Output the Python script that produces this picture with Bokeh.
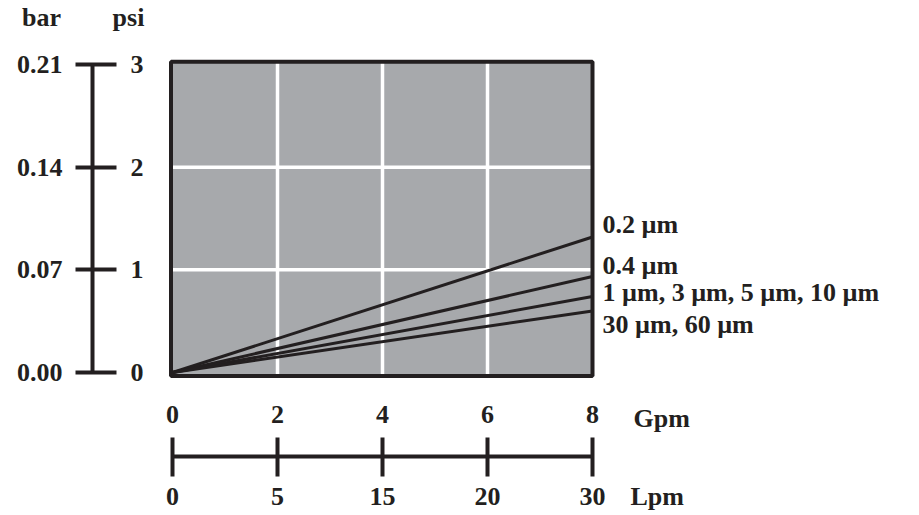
from bokeh.plotting import figure
from bokeh.models import (Range1d, LinearAxis, FixedTicker, ColumnDataSource,
                          LabelSet, Label, PrintfTickFormatter)
from bokeh.core.properties import value
from bokeh.embed import file_html
from bokeh.resources import INLINE

# ---------------- data ----------------
gpm_ticks = [0, 2, 4, 6, 8]
lpm_tick_labels = ["0", "5", "15", "20", "30"]
psi_ticks = [0, 1, 2, 3]
bar_ticks = [0.00, 0.07, 0.14, 0.21]
bar_per_psi = 0.07
grid_gpm = [2, 4, 6]
grid_psi = [1, 2]

series_names = ["0.2 µm", "0.4 µm", "1 µm, 3 µm, 5 µm, 10 µm", "30 µm, 60 µm"]
flow_gpm = [0, 8]
dp_02um = [0, 1.32]
dp_04um = [0, 0.935]
dp_1_10um = [0, 0.74]
dp_30_60um = [0, 0.60]

# ---------------- layout / style ----------------
W, H = 918, 514
PX_X0, PX_PER_GPM = 172.0, 52.5      # canvas x of 0 Gpm, px per Gpm
PX_Y0, PX_PER_PSI = 372.0, 102.667   # canvas y of 0 psi, px per psi


def dx(px):  # canvas x -> data
    return (px - PX_X0) / PX_PER_GPM


def dy(py):  # canvas y -> data
    return (PX_Y0 - py) / PX_PER_PSI


INK = "#231f20"
GRAY = "#a7a9ac"
FONT = "Liberation Serif"
FS = "26px"
label_dy = [4, 3, -4, -22]   # px nudges for the end labels

box_l, box_r, box_b, box_t = dx(170.5), flow_gpm[-1], dy(375.5), dy(61.3)
scale_x = dx(92)            # vertical bar/psi scale line
gpm_row_y = dy(375.5)
lpm_row_y = dy(456)

p = figure(width=W, height=H,
           x_range=Range1d(dx(0), dx(W)), y_range=Range1d(dy(H), dy(0)),
           output_backend="svg", toolbar_location=None,
           x_axis_location=None, y_axis_location=None,
           min_border=0, outline_line_color=None)
p.extra_y_ranges = {"bar": Range1d(dy(H) * bar_per_psi, dy(0) * bar_per_psi)}
p.grid.visible = False
p.background_fill_color = "white"
p.border_fill_color = "white"

# plot area
p.quad(left=box_l, right=box_r, bottom=box_b, top=box_t, fill_color=GRAY, line_color=None)
p.segment(x0=grid_gpm, y0=[box_b] * len(grid_gpm), x1=grid_gpm, y1=[box_t] * len(grid_gpm),
          line_color="white", line_width=3.5)
p.segment(x0=[box_l] * len(grid_psi), y0=grid_psi, x1=[box_r] * len(grid_psi), y1=grid_psi,
          line_color="white", line_width=3.5)

# curves
for ys in [dp_02um, dp_04um, dp_1_10um, dp_30_60um]:
    p.line(flow_gpm, ys, line_color=INK, line_width=3)

p.quad(left=box_l, right=box_r, bottom=box_b, top=box_t, fill_color=None,
       line_color=INK, line_width=4)


def style(ax):
    ax.major_label_text_font = FONT
    ax.major_label_text_font_style = "bold"
    ax.major_label_text_font_size = FS
    ax.major_label_text_color = INK
    ax.minor_tick_line_color = None


# bar scale: line, ticks and labels on the left
bar_axis = LinearAxis(y_range_name="bar", ticker=FixedTicker(ticks=bar_ticks),
                      formatter=PrintfTickFormatter(format="%.2f"),
                      bounds=(bar_ticks[0], bar_ticks[-1]), fixed_location=scale_x,
                      axis_line_color=INK, axis_line_width=4,
                      major_tick_line_color=INK, major_tick_line_width=4,
                      major_tick_in=24, major_tick_out=17, major_label_standoff=13)
style(bar_axis)
p.add_layout(bar_axis, "left")

# psi labels on the right of the same line
psi_axis = LinearAxis(ticker=FixedTicker(ticks=psi_ticks), fixed_location=scale_x,
                      bounds=(psi_ticks[0], psi_ticks[-1]), axis_line_color=None,
                      major_tick_line_color=None, major_tick_in=0, major_tick_out=0,
                      major_label_standoff=38)
style(psi_axis)
p.add_layout(psi_axis, "right")

# Gpm labels
gpm_axis = LinearAxis(ticker=FixedTicker(ticks=gpm_ticks), fixed_location=gpm_row_y,
                      bounds=(gpm_ticks[0], gpm_ticks[-1]), axis_line_color=None,
                      major_tick_line_color=None, major_tick_in=0, major_tick_out=0,
                      major_label_standoff=30)
style(gpm_axis)
p.add_layout(gpm_axis, "below")

# Lpm scale line
lpm_axis = LinearAxis(ticker=FixedTicker(ticks=gpm_ticks), fixed_location=lpm_row_y,
                      major_label_overrides={t: s for t, s in zip(gpm_ticks, lpm_tick_labels)},
                      bounds=(gpm_ticks[0], gpm_ticks[-1]),
                      axis_line_color=INK, axis_line_width=4,
                      major_tick_line_color=INK, major_tick_line_width=4,
                      major_tick_in=19, major_tick_out=20, major_label_standoff=11)
style(lpm_axis)
p.add_layout(lpm_axis, "below")

# end labels of the curves
src = ColumnDataSource(dict(
    x=[flow_gpm[-1]] * 4,
    y=[dp_02um[-1], dp_04um[-1], dp_1_10um[-1], dp_30_60um[-1]],
    text=series_names, dy=label_dy))
p.add_layout(LabelSet(x="x", y="y", text="text", source=src, x_offset=10, y_offset="dy",
                      text_font=value(FONT), text_font_style="bold",
                      text_font_size="26px", text_color=INK,
                      text_baseline="alphabetic", text_align="left"))


# unit captions
def caption(text, x, y, ox, oy, align):
    p.add_layout(Label(x=x, y=y, x_offset=ox, y_offset=oy, text=text,
                       text_font=FONT, text_font_style="bold", text_font_size=FS,
                       text_color=INK, text_align=align, text_baseline="alphabetic"))


caption("bar", scale_x, psi_ticks[-1], -51, 47, "center")
caption("psi", scale_x, psi_ticks[-1], 36, 47, "center")
caption("Gpm", gpm_ticks[-1], 0, 41, -46, "left")
caption("Lpm", gpm_ticks[-1], 0, 38, -124, "left")

open("out.html", "w").write(file_html(p, INLINE))
